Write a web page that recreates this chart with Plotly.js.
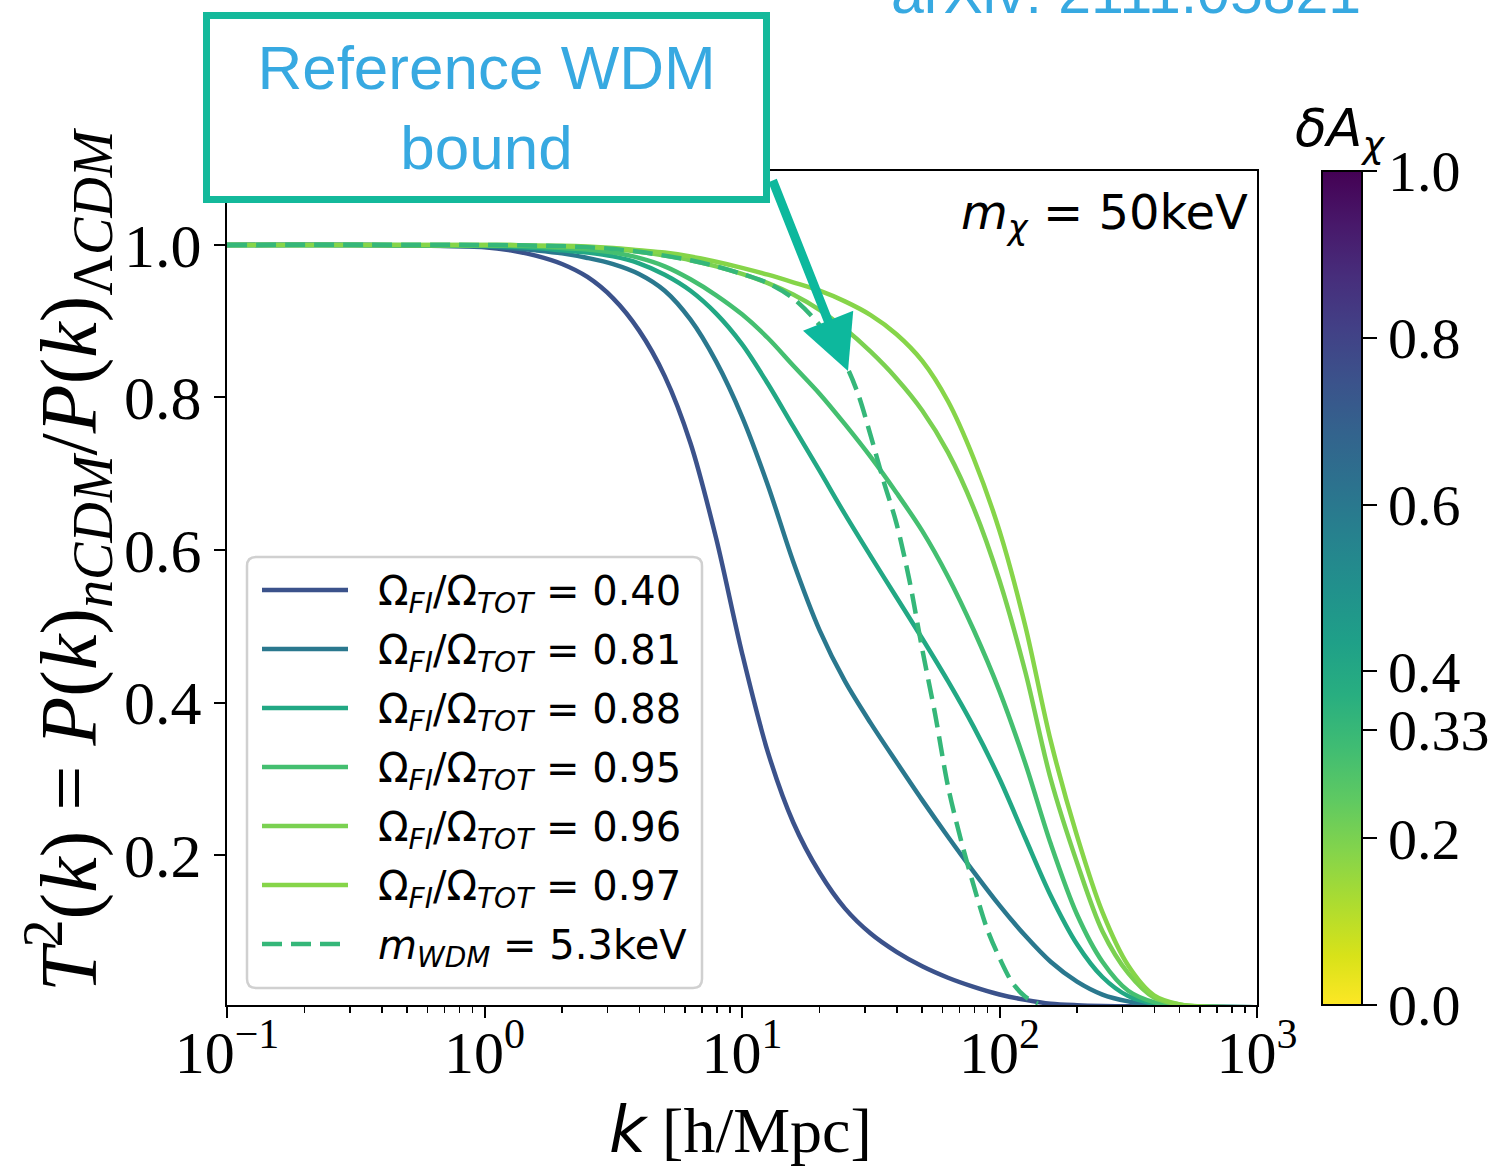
<!DOCTYPE html>
<html>
<head>
<meta charset="utf-8">
<script src="https://cdn.plot.ly/plotly-3.0.1.min.js"></script>
<style>
  html, body { margin: 0; padding: 0; background: #ffffff; }
  #chart { width: 1504px; height: 1167px; }
</style>
</head>
<body>
<div id="chart"></div>
<script>
// Wavenumber grid k [h/Mpc] shared by the mixed FI + WDM transfer functions
const kGrid = [0.1, 0.316, 1, 1.26, 1.58, 2.0, 2.51, 3.16, 3.98, 5.01, 6.31, 7.94, 10, 12.6, 15.8, 20.0, 25.1,
               31.6, 39.8, 50.1, 63.1, 79.4, 100, 126, 158, 200, 251, 316, 398, 501, 631, 1000];

// T^2(k) for each freeze-in fraction Omega_FI / Omega_TOT
const t2_040 = [1.0, 1.0, 0.997, 0.993, 0.986, 0.975, 0.958, 0.93, 0.888, 0.828, 0.74, 0.615, 0.465, 0.335, 0.243, 0.177, 0.13,
                0.097, 0.073, 0.054, 0.039, 0.027, 0.017, 0.01, 0.005, 0.003, 0.002, 0.0015, 0.001, 0.0008, 0.0006, 0.0005];
const t2_081 = [1.0, 1.0, 0.998, 0.996, 0.993, 0.989, 0.983, 0.975, 0.962, 0.94, 0.902, 0.847, 0.775, 0.685, 0.585, 0.495, 0.428,
                0.373, 0.322, 0.272, 0.224, 0.178, 0.134, 0.094, 0.06, 0.034, 0.017, 0.008, 0.003, 0.0015, 0.001, 0.0005];
const t2_088 = [1.0, 1.0, 0.999, 0.998, 0.996, 0.993, 0.99, 0.985, 0.976, 0.961, 0.94, 0.91, 0.87, 0.818, 0.762, 0.704, 0.647,
                0.592, 0.538, 0.484, 0.428, 0.368, 0.30, 0.222, 0.147, 0.083, 0.04, 0.015, 0.005, 0.002, 0.001, 0.0005];
const t2_095 = [1.0, 1.0, 0.999, 0.999, 0.998, 0.996, 0.994, 0.99, 0.983, 0.972, 0.955, 0.934, 0.909, 0.878, 0.842, 0.805, 0.765,
                0.722, 0.675, 0.625, 0.565, 0.495, 0.415, 0.32, 0.215, 0.122, 0.06, 0.022, 0.007, 0.002, 0.001, 0.0005];
const t2_096 = [1.0, 1.0, 1.0, 1.0, 0.999, 0.998, 0.997, 0.995, 0.991, 0.986, 0.98, 0.972, 0.962, 0.95, 0.935, 0.915, 0.89,
                0.86, 0.825, 0.783, 0.728, 0.655, 0.56, 0.44, 0.30, 0.19, 0.10, 0.045, 0.013, 0.004, 0.001, 0.0005];
const t2_097 = [1.0, 1.0, 1.0, 1.0, 0.999, 0.999, 0.998, 0.996, 0.993, 0.99, 0.985, 0.978, 0.97, 0.961, 0.951, 0.94, 0.926,
                0.908, 0.883, 0.848, 0.795, 0.72, 0.625, 0.50, 0.35, 0.225, 0.125, 0.055, 0.016, 0.004, 0.001, 0.0005];

// Reference thermal-relic WDM transfer function, m_WDM = 5.3 keV
const kWdm  = [0.1, 1, 2.51, 3.98, 6.31, 7.94, 10, 12.6, 15.8, 20.0, 25.1, 28.2, 31.6, 35.5, 39.8,
               44.7, 50.1, 56.2, 63.1, 70.8, 79.4, 89.1, 100, 112, 126, 141];
const t2Wdm = [1.0, 1.0, 0.997, 0.991, 0.98, 0.972, 0.962, 0.95, 0.93, 0.895, 0.845, 0.805, 0.75, 0.69, 0.635,
               0.56, 0.47, 0.385, 0.29, 0.22, 0.16, 0.105, 0.065, 0.033, 0.014, 0.005];

const fractionLabels = ['0.40', '0.81', '0.88', '0.95', '0.96', '0.97'];
const fractionCurves = [t2_040, t2_081, t2_088, t2_095, t2_096, t2_097];
const fractionColors = ['#3b528b', '#2a788e', '#22a884', '#44bf70', '#7ad151', '#86d549'];
const wdmLabel = '5.3';
const wdmColor = '#35b779';
const dmMass = '50';

// Colour bar scale for delta A_chi
const cbTicks = [0.0, 0.2, 0.33, 0.4, 0.6, 0.8, 1.0];
const cbTickText = ['0.0', '0.2', '0.33', '0.4', '0.6', '0.8', '1.0'];

// Axis ticks
const xMajor = [0.1, 1, 10, 100, 1000];
const xMajorText = ['10<sup>\u22121</sup>', '10<sup>0</sup>', '10<sup>1</sup>', '10<sup>2</sup>', '10<sup>3</sup>'];
const xMinor = [];
for (let e = -1; e < 3; e++) for (let m = 2; m <= 9; m++) xMinor.push(m * Math.pow(10, e));
const yTicks = [0.2, 0.4, 0.6, 0.8, 1.0];
const yTickText = ['0.2', '0.4', '0.6', '0.8', '1.0'];

const SERIF = 'Liberation Serif, Times New Roman, serif';
const SANS = 'DejaVu Sans, sans-serif';
const HELV = 'Liberation Sans, Arial, sans-serif';
const DASH = '20px,9px';

// Plot-area geometry in pixels, used to place the legend and notes
const M = { l: 227, r: 247, t: 171, b: 162 };
const W = 1504, H = 1167;
const PW = W - M.l - M.r, PH = H - M.t - M.b;
const px = v => (v - M.l) / PW;
const py = v => (H - M.b - v) / PH;

const legendNames = fractionLabels.map(v => '\u03A9<sub><i>FI</i></sub>/\u03A9<sub><i>TOT</i></sub> = ' + v);
const wdmName = '<i>m</i><sub><i>WDM</i></sub> = ' + wdmLabel + 'keV';

const traces = [];
fractionCurves.forEach((t2, i) => {
  traces.push({
    type: 'scatter', mode: 'lines',
    x: kGrid, y: t2, name: legendNames[i], showlegend: false,
    line: { color: fractionColors[i], width: 4.5, shape: 'spline', smoothing: 0.9 }
  });
});
traces.push({
  type: 'scatter', mode: 'lines',
  x: kWdm, y: t2Wdm, name: wdmName, showlegend: false,
  line: { color: wdmColor, width: 4.5, dash: DASH, shape: 'spline', smoothing: 0.9 }
});
// Carrier for the delta A_chi colour bar
traces.push({
  type: 'scatter', mode: 'markers',
  x: [0.2, 0.2], y: [0.5, 0.5],
  showlegend: false, hoverinfo: 'skip',
  marker: {
    size: 1, opacity: 0,
    color: [0, 1], cmin: 0, cmax: 1,
    colorscale: 'Viridis', reversescale: true, showscale: true,
    colorbar: {
      x: px(1322), xanchor: 'left', xref: 'paper',
      y: 0.5, yanchor: 'middle', len: 1.0, lenmode: 'fraction',
      thickness: 40, thicknessmode: 'pixels',
      xpad: 0, ypad: 0,
      outlinewidth: 2, outlinecolor: '#000000',
      tickmode: 'array', tickvals: cbTicks, ticktext: cbTickText,
      ticks: 'outside', ticklen: 14, tickwidth: 2, tickcolor: '#000000',
      tickfont: { family: SERIF, size: 58, color: '#000000' }
    }
  }
});

// Legend: rounded frame, line samples and labels
const legTop = 557, legBottom = 988, legLeft = 247, legRight = 702, rad = 9;
const rx = rad / PW, ry = rad / PH;
const L0 = px(legLeft), L1 = px(legRight), T0 = py(legTop), B0 = py(legBottom);
const shapes = [{
  type: 'path', xref: 'paper', yref: 'paper', layer: 'above',
  path: `M${L0 + rx},${T0} L${L1 - rx},${T0} Q${L1},${T0} ${L1},${T0 - ry} L${L1},${B0 + ry} Q${L1},${B0} ${L1 - rx},${B0} ` +
        `L${L0 + rx},${B0} Q${L0},${B0} ${L0},${B0 + ry} L${L0},${T0 - ry} Q${L0},${T0} ${L0 + rx},${T0} Z`,
  fillcolor: 'rgba(255,255,255,0.85)', line: { color: '#d0d0d0', width: 2.5 }
}];
const rowY = [590, 649, 708, 767, 826, 885, 944];
const legendColors = fractionColors.concat([wdmColor]);
const legendTexts = legendNames.concat([wdmName]);
const annotations = [];
legendTexts.forEach((txt, i) => {
  shapes.push({
    type: 'line', xref: 'paper', yref: 'paper', layer: 'above',
    x0: px(262), x1: px(348), y0: py(rowY[i]), y1: py(rowY[i]),
    line: { color: legendColors[i], width: 4.5, dash: i === 6 ? DASH : 'solid' }
  });
  annotations.push({
    xref: 'paper', yref: 'paper', x: px(376), y: py(rowY[i] + 4),
    xanchor: 'left', yanchor: 'middle', showarrow: false, text: txt,
    font: { family: SANS, size: 40, color: '#000000' }
  });
});

annotations.push(
  {
    xref: 'paper', yref: 'paper', x: px(68), y: py(560), xanchor: 'center', yanchor: 'middle',
    text: '<i>T</i><sup>2</sup>(<i>k</i>) = <i>P</i>(<i>k</i>)<sub><i>nCDM</i></sub>/<i>P</i>(<i>k</i>)<sub>\u039B<i>CDM</i></sub>',
    textangle: -90, showarrow: false,
    font: { family: SERIF, size: 80, color: '#000000' }
  },
  {
    xref: 'paper', yref: 'paper', x: px(740), y: py(1130), xanchor: 'center', yanchor: 'middle',
    text: '<span style="font-family:DejaVu Sans"><i>k</i></span> [h/Mpc]',
    showarrow: false,
    font: { family: SERIF, size: 64, color: '#000000' }
  },
  {
    xref: 'paper', yref: 'paper', x: px(1250), y: py(215), xanchor: 'right', yanchor: 'middle',
    text: '<i>m</i><sub><i>\u03C7</i></sub> = ' + dmMass + 'keV',
    showarrow: false,
    font: { family: SANS, size: 48, color: '#000000' }
  },
  {
    xref: 'paper', yref: 'paper', x: px(1340), y: py(132), xanchor: 'center', yanchor: 'middle',
    text: '<i>\u03B4A</i><sub><i>\u03C7</i></sub>',
    showarrow: false,
    font: { family: SANS, size: 52, color: '#000000' }
  },
  {
    xref: 'paper', yref: 'paper', x: px(848), y: py(371),
    ax: -76, ay: -192,
    text: '', showarrow: true,
    arrowhead: 2, arrowsize: 1.2, arrowwidth: 9, arrowcolor: '#0db89d'
  },
  {
    xref: 'paper', yref: 'paper', x: px(486.5), y: py(107.5), xanchor: 'center', yanchor: 'middle',
    text: 'Reference WDM<br>bound',
    showarrow: false,
    width: 553, height: 177,
    bgcolor: '#ffffff', bordercolor: '#14b99b', borderwidth: 7, borderpad: 0,
    font: { family: HELV, size: 62, color: '#37a9e1' }
  },
  {
    xref: 'paper', yref: 'paper', x: px(1126), y: py(28), xanchor: 'center', yanchor: 'bottom',
    text: 'arXiv: 2111.05821',
    showarrow: false,
    font: { family: HELV, size: 59, color: '#37a9e1' }
  }
);

const layout = {
  width: W, height: H,
  margin: { l: M.l, r: M.r, t: M.t, b: M.b, pad: 0 },
  paper_bgcolor: '#ffffff', plot_bgcolor: '#ffffff',
  showlegend: false,
  xaxis: {
    type: 'log', range: [-1, 3],
    showgrid: false, zeroline: false,
    showline: true, mirror: true, linecolor: '#000000', linewidth: 2,
    ticks: 'outside', ticklen: 11, tickwidth: 2, tickcolor: '#000000',
    tickmode: 'array', tickvals: xMajor, ticktext: xMajorText,
    ticklabelstandoff: -17,
    tickfont: { family: SERIF, size: 60, color: '#000000' },
    minor: { tickmode: 'array', tickvals: xMinor, ticks: 'outside', ticklen: 6, tickwidth: 1.5, tickcolor: '#000000', showgrid: false }
  },
  yaxis: {
    range: [0.0033, 1.097],
    showgrid: false, zeroline: false,
    showline: true, mirror: true, linecolor: '#000000', linewidth: 2,
    ticks: 'outside', ticklen: 11, tickwidth: 2, tickcolor: '#000000',
    tickmode: 'array', tickvals: yTicks, ticktext: yTickText,
    tickfont: { family: SERIF, size: 62, color: '#000000' }
  },
  shapes: shapes,
  annotations: annotations
};

Plotly.newPlot('chart', traces, layout, { displayModeBar: false, staticPlot: true });
</script>
</body>
</html>
